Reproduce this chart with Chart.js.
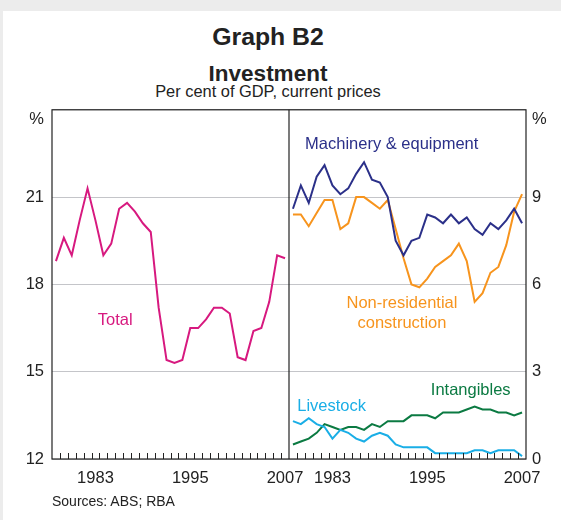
<!DOCTYPE html>
<html>
<head>
<meta charset="utf-8">
<script src="https://cdn.jsdelivr.net/npm/chart.js@4.4.1/dist/chart.umd.min.js"></script>
<style>
    body { margin: 0; background: #ececec; font-family: "Liberation Sans", Arial, sans-serif; }
    .card { position: absolute; left: 3px; top: 11px; right: 0; bottom: 0; background: #fff; }
    .head { position: absolute; left: 0; width: 536px; text-align: center; color: #222; line-height: 1; white-space: nowrap; }
    #chart { position: absolute; left: 0; top: 82px; }
    .source { position: absolute; left: 52px; top: 494px; font-size: 14px; line-height: 1; color: #222; }
</style>
</head>
<body>
<div class="card"></div>
<div class="head" style="top:25px; font-size:24.8px; font-weight:bold;">Graph B2</div>
<div class="head" style="top:63px; font-size:22.5px; font-weight:bold;">Investment</div>
<div class="head" style="top:83px; font-size:16.4px;">Per cent of GDP, current prices</div>
<canvas id="chart" width="561" height="418"></canvas>
<div class="source">Sources: ABS; RBA</div>
<script>
const years = [1978, 1979, 1980, 1981, 1982, 1983, 1984, 1985, 1986, 1987,
    1988, 1989, 1990, 1991, 1992, 1993, 1994, 1995, 1996, 1997,
    1998, 1999, 2000, 2001, 2002, 2003, 2004, 2005, 2006, 2007];
const yearLabels = [1983, 1995, 2007];

// left panel, per cent of GDP
const total = [18.8, 19.6, 19.0, 20.2, 21.3, 20.2, 19.0, 19.4, 20.6, 20.8,
    20.5, 20.1, 19.8, 17.2, 15.4, 15.3, 15.4, 16.5, 16.5, 16.8,
    17.2, 17.2, 17.0, 15.5, 15.4, 16.4, 16.5, 17.4, 19.0, 18.9];

// right panel, per cent of GDP
const machinery = [8.6, 9.4, 8.8, 9.7, 10.1, 9.4, 9.1, 9.3, 9.8, 10.2,
    9.6, 9.5, 9.0, 7.5, 7.0, 7.5, 7.6, 8.4, 8.3, 8.1,
    8.4, 8.1, 8.3, 7.9, 7.7, 8.1, 7.9, 8.2, 8.6, 8.1];
const nonResidential = [8.4, 8.4, 8.0, 8.45, 8.9, 8.9, 7.9, 8.1, 9.0, 9.0,
    8.8, 8.6, 8.9, 7.9, 6.9, 6.0, 5.9, 6.2, 6.6, 6.8,
    7.0, 7.4, 6.8, 5.4, 5.7, 6.4, 6.6, 7.35, 8.5, 9.1];
const livestock = [1.3, 1.2, 1.4, 1.2, 1.1, 0.7, 1.0, 0.9, 0.7, 0.6,
    0.8, 0.9, 0.8, 0.5, 0.4, 0.4, 0.4, 0.4, 0.2, 0.2,
    0.2, 0.2, 0.2, 0.3, 0.3, 0.2, 0.3, 0.3, 0.3, 0.1];
const intangibles = [0.5, 0.6, 0.7, 0.9, 1.2, 1.1, 1.0, 1.1, 1.1, 1.0,
    1.2, 1.1, 1.3, 1.3, 1.3, 1.5, 1.5, 1.5, 1.4, 1.6,
    1.6, 1.6, 1.7, 1.8, 1.7, 1.7, 1.6, 1.6, 1.5, 1.6];

const leftRange = [12, 24];
const rightRange = [0, 12];

const colors = {
    total: "#d7197f",
    machinery: "#2b3089",
    nonResidential: "#f7941d",
    livestock: "#1aaee6",
    intangibles: "#0b7a42"
};

// series names placed in data units
const seriesLabels = [
    { lines: ["Total"], year: 1985.5, value: 16.75, panel: "left", color: colors.total },
    { lines: ["Machinery & equipment"], year: 1990.5, value: 10.8, panel: "right", color: colors.machinery },
    { lines: ["Non-residential", "construction"], year: 1991.8, value: 5.0, panel: "right", color: colors.nonResidential },
    { lines: ["Intangibles"], year: 2000.5, value: 2.35, panel: "right", color: colors.intangibles },
    { lines: ["Livestock"], year: 1982.9, value: 1.8, panel: "right", color: colors.livestock }
];

const font = { family: "'Liberation Sans', Arial, sans-serif", size: 16.5 };
const ink = "#222";

const framePlugin = {
    id: "frame",
    afterDatasetsDraw(chart) {
        const { ctx, chartArea: a, scales } = chart;
        ctx.save();
        ctx.strokeStyle = ink;
        ctx.lineWidth = 1.2;
        ctx.strokeRect(a.left, a.top, a.width, a.height);

        ctx.beginPath();
        ctx.moveTo(scales.x.right, a.top);
        ctx.lineTo(scales.x.right, a.bottom);
        ctx.stroke();

        // small inward year ticks on the boundaries between years
        ctx.lineWidth = 1;
        ctx.beginPath();
        [scales.x, scales.x2].forEach(s => {
            for (let i = 1; i < years.length; i++) {
                const px = Math.round(s.getPixelForValue(i - 0.5)) + 0.5;
                ctx.moveTo(px, a.bottom);
                ctx.lineTo(px, a.bottom - 6);
            }
        });
        ctx.stroke();

        ctx.font = "16.5px 'Liberation Sans', Arial, sans-serif";
        ctx.textAlign = "center";
        ctx.textBaseline = "middle";
        seriesLabels.forEach(l => {
            const xs = l.panel === "left" ? scales.x : scales.x2;
            const ys = l.panel === "left" ? scales.y : scales.y2;
            const px = xs.getPixelForValue(l.year - years[0]);
            const py = ys.getPixelForValue(l.value);
            ctx.fillStyle = l.color;
            const start = py - (l.lines.length - 1) * 10;
            l.lines.forEach((t, i) => ctx.fillText(t, px, start + i * 20));
        });
        ctx.restore();
    }
};

const line = (data, color, xAxisID, yAxisID) => ({
    data,
    borderColor: color,
    borderWidth: 2,
    pointRadius: 0,
    tension: 0,
    xAxisID,
    yAxisID
});

const xAxis = {
    type: "category",
    position: "bottom",
    stack: "years",
    offset: true,
    afterFit: s => { s.height = 41; },
    border: { display: false },
    grid: { display: false, drawTicks: false },
    ticks: {
        autoSkip: false,
        maxRotation: 0,
        padding: 10,
        color: ink,
        font,
        callback: (v, i) => yearLabels.includes(years[i]) ? String(years[i]) : ""
    }
};

// the top tick shows "%" a little below the frame corner
const pctLabel = (v, top) => v === top ? ["", "%"] : v;

new Chart(document.getElementById("chart"), {
    type: "line",
    data: {
        labels: years,
        datasets: [
            line(total, colors.total, "x", "y"),
            line(machinery, colors.machinery, "x2", "y2"),
            line(nonResidential, colors.nonResidential, "x2", "y2"),
            line(livestock, colors.livestock, "x2", "y2"),
            line(intangibles, colors.intangibles, "x2", "y2")
        ]
    },
    options: {
        responsive: false,
        animation: false,
        layout: { padding: 0 },
        plugins: { legend: { display: false }, tooltip: { enabled: false } },
        scales: {
            x: xAxis,
            x2: xAxis,
            y: {
                position: "left",
                min: leftRange[0],
                max: leftRange[1],
                afterFit: s => { s.width = 52; },
                border: { display: false },
                grid: { color: "#c4c5c9", drawTicks: false },
                ticks: {
                    stepSize: 3,
                    padding: 8,
                    color: ink,
                    font,
                    callback: v => pctLabel(v, leftRange[1])
                }
            },
            y2: {
                position: "right",
                min: rightRange[0],
                max: rightRange[1],
                afterFit: s => { s.width = 35; },
                border: { display: false },
                grid: { drawOnChartArea: false, drawTicks: false },
                ticks: {
                    stepSize: 3,
                    padding: 6,
                    color: ink,
                    font,
                    callback: v => pctLabel(v, rightRange[1])
                }
            }
        }
    },
    plugins: [framePlugin]
});
</script>
</body>
</html>
